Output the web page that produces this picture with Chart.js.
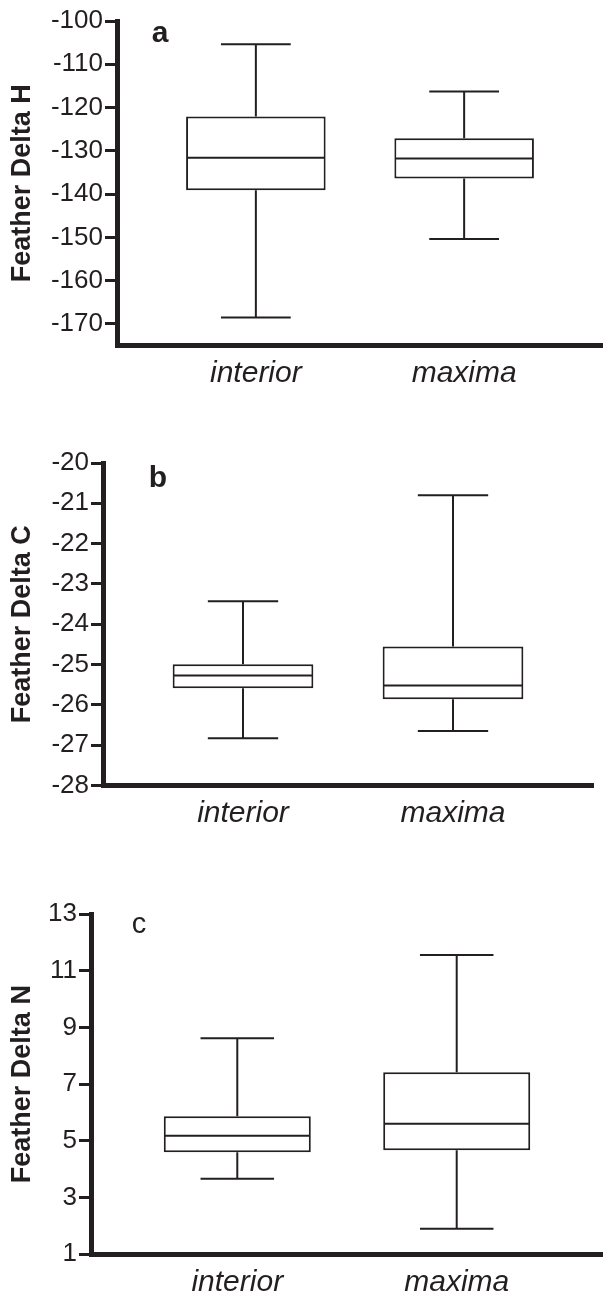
<!DOCTYPE html>
<html>
<head>
<meta charset="utf-8">
<script src="https://cdn.jsdelivr.net/npm/chart.js@4.4.0/dist/chart.umd.min.js"></script>
<style>
  html, body { margin: 0; padding: 0; background: #fff; }
  #page { position: relative; width: 603px; height: 1294px; }
  .panel { position: absolute; left: 0; width: 603px; }
</style>
</head>
<body>
<div id="page">
  <div class="panel" style="top:0;height:420px"><canvas id="chartH"></canvas></div>
  <div class="panel" style="top:420px;height:420px"><canvas id="chartC"></canvas></div>
  <div class="panel" style="top:840px;height:454px"><canvas id="chartN"></canvas></div>
</div>
<script>
// 箱ひげ図のデータ（interior / maxima）=========================================
const categories = ['interior', 'maxima'];

// a: Feather Delta H
const hMin = [-168.5, -150.4];
const hQ1 = [-139.1, -136.4];
const hMedian = [-131.6, -131.8];
const hQ3 = [-122.1, -127.1];
const hMax = [-105.4, -116.3];

// b: Feather Delta C
const cMin = [-26.83, -26.65];
const cQ1 = [-25.59, -25.86];
const cMedian = [-25.27, -25.52];
const cQ3 = [-24.99, -24.55];
const cMax = [-23.43, -20.80];

// c: Feather Delta N
const nMin = [3.66, 1.90];
const nQ1 = [4.60, 4.67];
const nMedian = [5.18, 5.60];
const nQ3 = [5.87, 7.42];
const nMax = [8.62, 11.55];

const ink = '#231f20';
Chart.defaults.font.family = "'Liberation Sans', Arial, Helvetica, sans-serif";
Chart.defaults.color = ink;

// ひげ・中央値を描くプラグイン
function whiskerPlugin(lo, q1, mid, q3, hi) {
  return {
    id: 'whiskers',
    afterDatasetsDraw(chart) {
      const ctx = chart.ctx;
      const y = chart.scales.y;
      const bars = chart.getDatasetMeta(0).data;
      ctx.save();
      ctx.strokeStyle = ink;
      ctx.lineWidth = 2;
      bars.forEach(function(bar, i) {
        const x = bar.x;
        const half = bar.width / 2;
        const cap = bar.width / 4;
        const yLo = y.getPixelForValue(lo[i]);
        const yQ1 = y.getPixelForValue(q1[i]);
        const yMid = y.getPixelForValue(mid[i]);
        const yQ3 = y.getPixelForValue(q3[i]);
        const yHi = y.getPixelForValue(hi[i]);
        ctx.beginPath();
        ctx.moveTo(x, yQ3); ctx.lineTo(x, yHi);
        ctx.moveTo(x - cap, yHi); ctx.lineTo(x + cap, yHi);
        ctx.moveTo(x, yQ1); ctx.lineTo(x, yLo);
        ctx.moveTo(x - cap, yLo); ctx.lineTo(x + cap, yLo);
        ctx.moveTo(x - half + 1, yMid); ctx.lineTo(x + half - 1, yMid);
        ctx.stroke();
      });
      ctx.restore();
    }
  };
}

// パネル文字（a, b, c）
const letterPlugin = {
  id: 'panelLetter',
  afterDraw(chart, args, opts) {
    const ctx = chart.ctx;
    const area = chart.chartArea;
    ctx.save();
    ctx.font = opts.font;
    ctx.fillStyle = ink;
    ctx.textAlign = 'center';
    ctx.textBaseline = 'alphabetic';
    ctx.fillText(opts.text, area.left + opts.dx, area.top + opts.dy);
    ctx.restore();
  }
};

function makePanel(p) {
  const data = categories.map(function(c, i) {
    return { x: i + 1, y: [p.q1[i], p.q3[i]] };
  });

  const config = {
    type: 'bar',
    data: {
      datasets: [{
        data: data,
        backgroundColor: '#ffffff',
        borderColor: ink,
        borderWidth: 2,
        borderSkipped: false,
        barPercentage: 0.67,
        categoryPercentage: 1
      }]
    },
    options: {
      responsive: true,
      maintainAspectRatio: false,
      animation: false,
      layout: { padding: { top: p.top, right: p.padRight, left: 0, bottom: 0 } },
      plugins: {
        legend: { display: false },
        tooltip: { enabled: false },
        panelLetter: { text: p.letter, font: p.letterFont, dx: p.letterDx, dy: p.letterDy }
      },
      scales: {
        x: {
          type: 'linear',
          position: 'bottom',
          offset: false,
          min: 1 / 3,
          max: 8 / 3,
          afterBuildTicks: function(s) {
            s.ticks = categories.map(function(c, i) { return { value: i + 1 }; });
          },
          afterFit: function(s) { s.height = p.h - p.bottom; },
          grid: { display: false, drawTicks: false, offset: false },
          border: { display: true, color: ink, width: 5 },
          ticks: {
            callback: function(v, i) { return categories[i]; },
            font: { size: 30, style: 'italic' },
            color: ink,
            padding: 10,
            autoSkip: false,
            maxRotation: 0
          }
        },
        y: {
          position: 'left',
          min: p.yMin,
          max: p.yMax,
          afterFit: function(s) { s.width = p.axisX; },
          grid: {
            drawOnChartArea: false,
            drawTicks: true,
            tickLength: 12,
            tickWidth: 3,
            tickColor: ink
          },
          border: { display: true, color: ink, width: 5 },
          ticks: {
            stepSize: p.step,
            includeBounds: false,
            font: { size: 26 },
            color: ink,
            padding: 2
          },
          title: {
            display: true,
            text: p.title,
            font: { size: 27, weight: 'bold' },
            color: ink,
            padding: { top: 6, bottom: 0 }
          }
        }
      }
    },
    plugins: [whiskerPlugin(p.lo, p.q1, p.mid, p.q3, p.hi), letterPlugin]
  };

  return new Chart(document.getElementById(p.id), config);
}

makePanel({
  id: 'chartH', h: 420, axisX: 117, top: 21, bottom: 345.5, padRight: 0,
  yMin: -175, yMax: -100, step: 10, title: 'Feather Delta H',
  letter: 'a', letterFont: "bold 30px 'Liberation Sans', Arial, sans-serif", letterDx: 43, letterDy: 21,
  lo: hMin, q1: hQ1, mid: hMedian, q3: hQ3, hi: hMax
});

makePanel({
  id: 'chartC', h: 420, axisX: 103, top: 43, bottom: 365.5, padRight: 10,
  yMin: -28, yMax: -20, step: 1, title: 'Feather Delta C',
  letter: 'b', letterFont: "bold 30px 'Liberation Sans', Arial, sans-serif", letterDx: 55, letterDy: 24,
  lo: cMin, q1: cQ1, mid: cMedian, q3: cQ3, hi: cMax
});

makePanel({
  id: 'chartN', h: 454, axisX: 91, top: 74, bottom: 414.3, padRight: 0,
  yMin: 1, yMax: 13, step: 2, title: 'Feather Delta N',
  letter: 'c', letterFont: "29px 'Liberation Sans', Arial, sans-serif", letterDx: 48, letterDy: 19,
  lo: nMin, q1: nQ1, mid: nMedian, q3: nQ3, hi: nMax
});
</script>
</body>
</html>
